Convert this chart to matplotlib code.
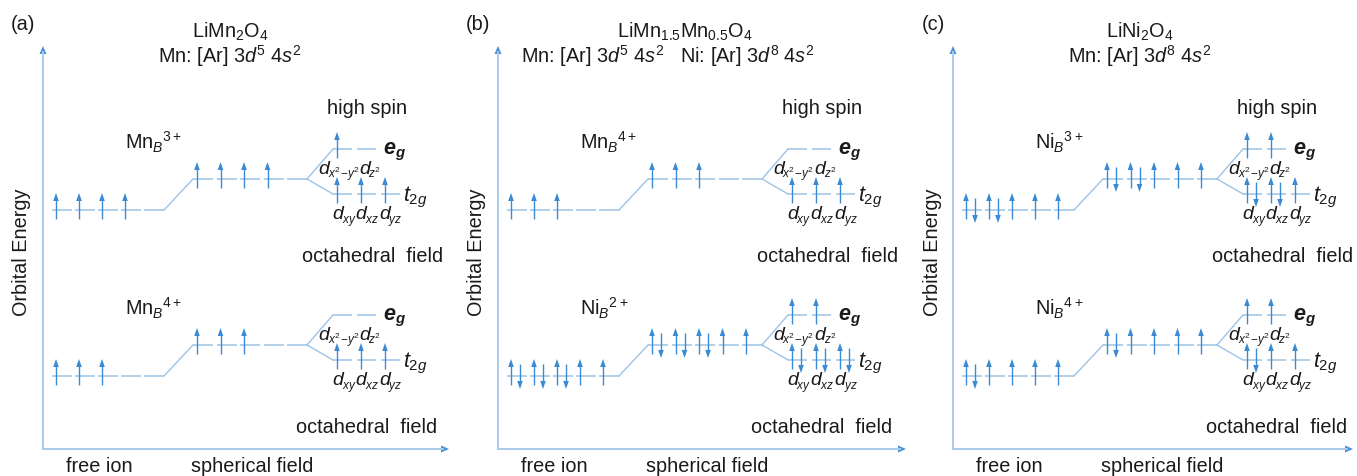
import matplotlib
matplotlib.use('Agg')
import matplotlib.pyplot as plt

plt.rcParams['font.family'] = 'Liberation Sans'
plt.rcParams['mathtext.fontset'] = 'custom'
plt.rcParams['mathtext.rm'] = 'Liberation Sans'
plt.rcParams['mathtext.it'] = 'Liberation Sans:italic'
plt.rcParams['mathtext.bf'] = 'Liberation Sans:bold:italic'

# ---------------- data ----------------
panel_labels = ['(a)', '(b)', '(c)']
compounds = ['LiMn$_2$O$_4$', 'LiMn$_{1.5}$Mn$_{0.5}$O$_4$', 'LiNi$_2$O$_4$']
configs = ['Mn: [Ar] 3$d^5$ 4$s^2$',
           'Mn: [Ar] 3$d^5$ 4$s^2$   Ni: [Ar] 3$d^8$ 4$s^2$',
           'Mn: [Ar] 3$d^8$ 4$s^2$']
ions_top = ['Mn$_B$$^{3+}$', 'Mn$_B$$^{4+}$', 'Ni$_B$$^{3+}$']
ions_bottom = ['Mn$_B$$^{4+}$', 'Ni$_B$$^{2+}$', 'Ni$_B$$^{4+}$']
# occupancy: 0 = empty, 1 = spin up, 2 = spin up + down
free_top = [[1, 1, 1, 1, 0], [1, 1, 1, 0, 0], [2, 2, 1, 1, 1]]
sph_top = [[1, 1, 1, 1, 0], [1, 1, 1, 0, 0], [2, 2, 1, 1, 1]]
t2g_top = [[1, 1, 1], [1, 1, 1], [2, 2, 1]]
eg_top = [[1, 0], [0, 0], [1, 1]]
free_bottom = [[1, 1, 1, 0, 0], [2, 2, 2, 1, 1], [2, 1, 1, 1, 1]]
sph_bottom = [[1, 1, 1, 0, 0], [2, 2, 2, 1, 1], [2, 1, 1, 1, 1]]
t2g_bottom = [[1, 1, 1], [2, 2, 2], [2, 1, 1]]
eg_bottom = [[0, 0], [1, 1], [1, 1]]
eg_orbitals = [r'$x^2\!-\!y^2$', r'$z^2$']
t2g_orbitals = ['$xy$', '$xz$', '$yz$']
x_labels = ['free ion', 'spherical field']
y_label = 'Orbital Energy'

# ---------------- style / layout ----------------
W, H = 1357, 477
fig = plt.figure(figsize=(W / 100, H / 100), dpi=100)
ax = fig.add_axes([0, 0, 1, 1])
ax.set_xlim(0, W)
ax.set_ylim(H, 0)
ax.axis('off')

LEVEL_C = '#9dc3e6'
ARROW_C = '#3a8ad4'
AXIS_C = '#a9cbea'
AXHEAD_C = '#4a90d9'
TXT_C = '#1a1a1a'
FS = 14.3

panel_x = [43, 498, 953]
axis_len = [406, 408, 400]
axis_top = 47
axis_y = 450


def spin(x, y, up):
    if up:
        ax.plot([x, x], [y + 9, y - 10], color=ARROW_C, lw=1.0, solid_capstyle='butt')
        ax.fill([x - 2.8, x + 2.8, x], [y - 9, y - 9, y - 17], color=ARROW_C, lw=0)
    else:
        ax.plot([x, x], [y - 12, y + 6], color=ARROW_C, lw=1.0, solid_capstyle='butt')
        ax.fill([x - 2.8, x + 2.8, x], [y + 5, y + 5, y + 13], color=ARROW_C, lw=0)


def levels(x_start, pitch, width, y, occ):
    for i, o in enumerate(occ):
        xs = x_start + i * pitch
        ax.plot([xs, xs + width], [y, y], color=LEVEL_C, lw=1.1, solid_capstyle='butt')
        if o >= 1:
            spin(xs + 4, y, True)
        if o == 2:
            spin(xs + 13, y, False)


def dlabel(x, y, sub):
    ax.text(x, y, 'd', fontsize=14, style='italic', ha='left', va='baseline', color=TXT_C)
    ax.text(x + 9.5, y + 4, sub, fontsize=8.5, ha='left', va='baseline', color=TXT_C)


def block(x0, y_free, free, sph, t2g, eg, ion, oct_dx, oct_y):
    y_sph = y_free - 31
    y_eg = y_sph - 30
    y_t2g = y_sph + 15
    fx, fp, fw = x0 + 9, 23, 20
    sx, sp, sw = x0 + 150, 23.5, 20
    ox, op, ow = x0 + 290, 24, 19
    levels(fx, fp, fw, y_free, free)
    levels(sx, sp, sw, y_sph, sph)
    levels(ox, op, ow, y_t2g, t2g)
    levels(ox, op, ow, y_eg, eg)
    f_end = fx + 4 * fp + fw
    s_end = sx + 4 * sp + sw
    ax.plot([f_end, sx], [y_free, y_sph], color=LEVEL_C, lw=1.0)
    ax.plot([s_end, ox], [y_sph, y_eg], color=LEVEL_C, lw=1.0)
    ax.plot([s_end, ox], [y_sph, y_t2g], color=LEVEL_C, lw=1.0)
    ax.text(x0 + 82, y_free - 61, ion, fontsize=FS, ha='left', va='baseline', color=TXT_C)
    ax.text(x0 + 340, y_eg + 4, r'$\mathbf{e}_\mathbf{g}$', fontsize=15.5,
            ha='left', va='baseline', color=TXT_C)
    ax.text(x0 + 360, y_t2g + 6, r'$t_{2g}$', fontsize=15.5, ha='left', va='baseline',
            color=TXT_C)
    dlabel(x0 + 275, y_eg + 24, eg_orbitals[0])
    dlabel(x0 + 316, y_eg + 24, eg_orbitals[1])
    for i, lab in enumerate(t2g_orbitals):
        dlabel(x0 + 289 + i * 23.5, y_t2g + 24, lab)
    ax.text(x0 + oct_dx, oct_y, 'octahedral  field', fontsize=FS, ha='center',
            va='center', color=TXT_C)


for p in range(3):
    x0 = panel_x[p]
    # axes
    ax.plot([x0, x0], [axis_y, axis_top + 6], color=AXIS_C, lw=1.4)
    ax.plot([x0, x0 + axis_len[p] - 6], [axis_y, axis_y], color=AXIS_C, lw=1.4)
    ax.fill([x0 - 3.5, x0 + 3.5, x0], [axis_top + 8, axis_top + 8, axis_top],
            color=AXHEAD_C, lw=0)
    xe = x0 + axis_len[p]
    ax.fill([xe - 8, xe - 8, xe], [axis_y - 3.5, axis_y + 3.5, axis_y],
            color=AXHEAD_C, lw=0)
    ax.text(x0 - 21, 252, y_label, fontsize=FS, rotation=90, ha='center', va='center',
            color=TXT_C)
    ax.text(x0 + 56, 467, x_labels[0], fontsize=FS, ha='center', va='center', color=TXT_C)
    ax.text(x0 + 209, 467, x_labels[1], fontsize=FS, ha='center', va='center', color=TXT_C)
    # titles
    ax.text(x0 - 20, 25, panel_labels[p], fontsize=FS, ha='center', va='center', color=TXT_C)
    ax.text(x0 + 187, 32, compounds[p], fontsize=FS, ha='center', va='center', color=TXT_C)
    ax.text(x0 + 187 - (17 if p == 1 else 0), 56, configs[p], fontsize=FS,
            ha='center', va='center', color=TXT_C)
    ax.text(x0 + 324, 108, 'high spin', fontsize=FS, ha='center', va='center', color=TXT_C)
    block(x0, 211, free_top[p], sph_top[p], t2g_top[p], eg_top[p], ions_top[p], 330, 257)
    block(x0, 377, free_bottom[p], sph_bottom[p], t2g_bottom[p], eg_bottom[p],
          ions_bottom[p], 324, 428)

fig.savefig('out.png', dpi=100)
